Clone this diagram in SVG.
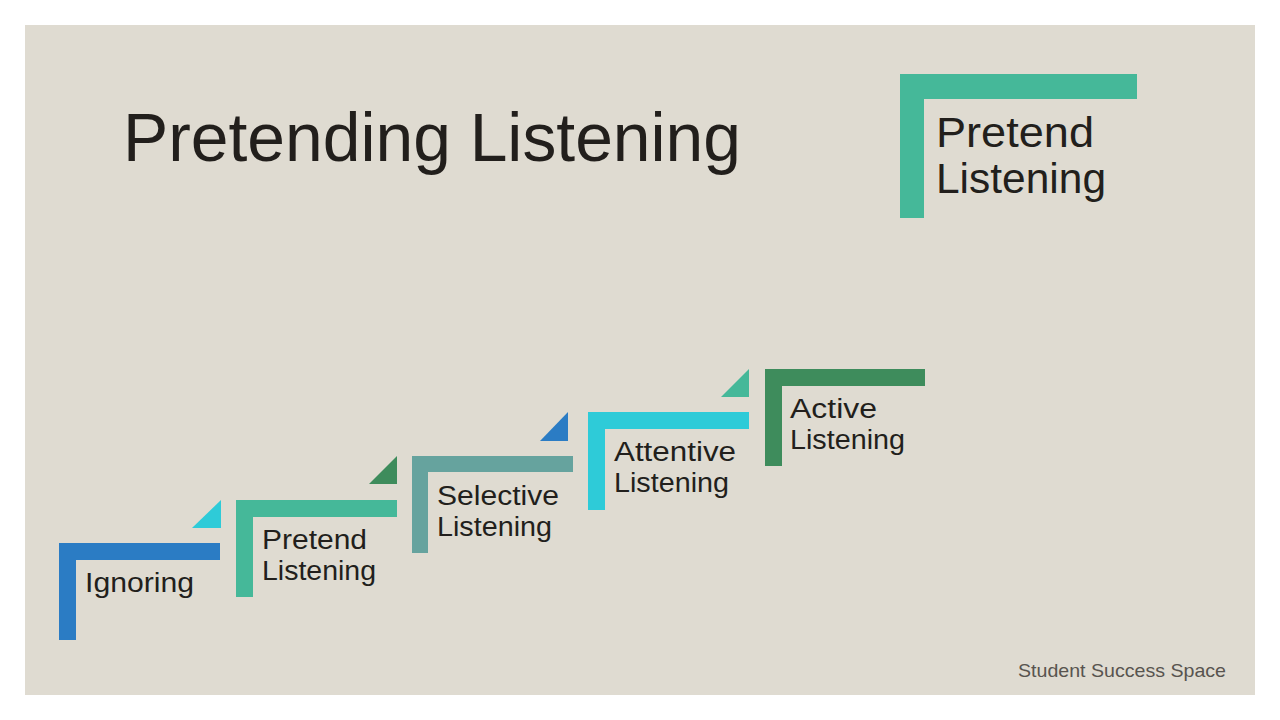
<svg xmlns="http://www.w3.org/2000/svg" width="1280" height="720" viewBox="0 0 1280 720">
<style>
.t{font-family:"Liberation Sans",Arial,sans-serif;fill:#221f1c}
.s{font-size:27px}
.blue{fill:#2b7cc4}.cyan{fill:#2ecbd8}.teal{fill:#45b899}.dg{fill:#3e8c5c}.gt{fill:#66a39e}
</style>
<rect width="1280" height="720" fill="#ffffff"/>
<rect x="25" y="25" width="1230" height="670" fill="#dfdbd1"/>
<text class="t" x="123" y="161" font-size="68" textLength="618" lengthAdjust="spacingAndGlyphs">Pretending Listening</text>
<g id="header-badge">
<path class="teal" d="M900 74H1137V99H924V218H900Z"/>
<text class="t" x="936" y="147" font-size="42" textLength="158" lengthAdjust="spacingAndGlyphs">Pretend</text>
<text class="t" x="936" y="193" font-size="42" textLength="170" lengthAdjust="spacingAndGlyphs">Listening</text>
</g>
<g id="connectors">
<path class="cyan" d="M192 528L221 500V528Z"/>
<path class="dg" d="M369 484L397 456V484Z"/>
<path class="blue" d="M540 441L568 412V441Z"/>
<path class="teal" d="M721 397L749 369V397Z"/>
</g>
<g id="ignoring">
<path class="blue" d="M59 543H220V560H76V640H59Z"/>
<text class="t s" x="85" y="592" textLength="109" lengthAdjust="spacingAndGlyphs">Ignoring</text>
</g>
<g id="pretend">
<path class="teal" d="M236 500H397V517H253V597H236Z"/>
<text class="t s" x="262" y="549" textLength="105" lengthAdjust="spacingAndGlyphs">Pretend</text>
<text class="t s" x="262" y="580" textLength="114" lengthAdjust="spacingAndGlyphs">Listening</text>
</g>
<g id="selective">
<path class="gt" d="M412 456H573V472H428V553H412Z"/>
<text class="t s" x="437" y="505" textLength="122" lengthAdjust="spacingAndGlyphs">Selective</text>
<text class="t s" x="437" y="536" textLength="115" lengthAdjust="spacingAndGlyphs">Listening</text>
</g>
<g id="attentive">
<path class="cyan" d="M588 412H749V429H605V510H588Z"/>
<text class="t s" x="614" y="461" textLength="122" lengthAdjust="spacingAndGlyphs">Attentive</text>
<text class="t s" x="614" y="492" textLength="115" lengthAdjust="spacingAndGlyphs">Listening</text>
</g>
<g id="active">
<path class="dg" d="M765 369H925V386H782V466H765Z"/>
<text class="t s" x="790" y="418" textLength="87" lengthAdjust="spacingAndGlyphs">Active</text>
<text class="t s" x="790" y="449" textLength="115" lengthAdjust="spacingAndGlyphs">Listening</text>
</g>
<text x="1018" y="677" textLength="208" lengthAdjust="spacingAndGlyphs" font-family="'Liberation Sans',Arial,sans-serif" font-size="19" fill="#58544f">Student Success Space</text>
</svg>
